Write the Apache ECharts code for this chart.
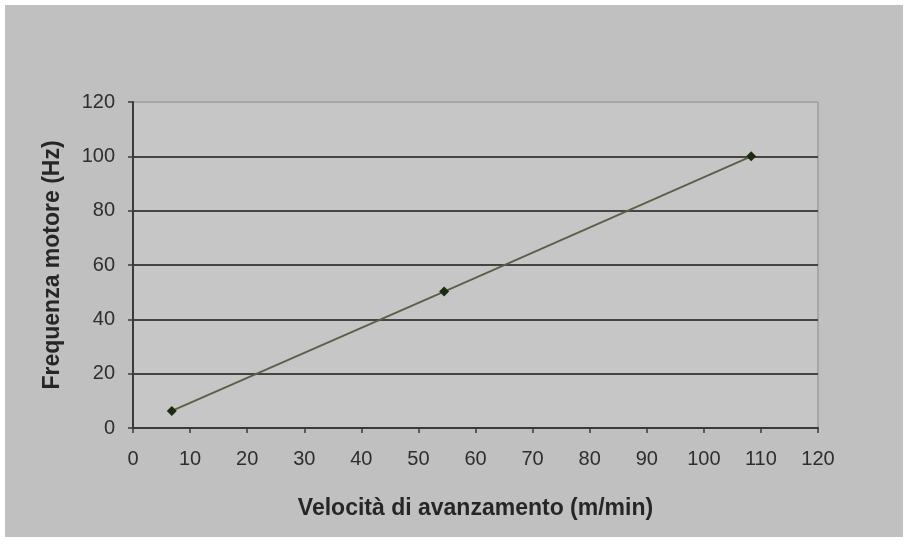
<!DOCTYPE html>
<html><head><meta charset="utf-8">
<script src="https://cdn.jsdelivr.net/npm/echarts@6/dist/echarts.min.js"></script>
<style>html,body{margin:0;padding:0;background:#fff}#wrap{position:absolute;left:5px;top:5px;width:898px;height:532px;background:#c0c0c0}#c{width:908px;height:545px;position:absolute;left:0;top:0}</style>
</head><body><div id="wrap"></div><div id="c"></div>
<script>
var velocita = [6.8, 54.5, 108.3];
var frequenza = [6.3, 50.2, 100];
var xTicks = [0,10,20,30,40,50,60,70,80,90,100,110,120];
var yTicks = [0,20,40,60,80,100,120];
var data = velocita.map(function(v,i){return [v, frequenza[i]];});
var chart = echarts.init(document.getElementById('c'));
chart.setOption({
  backgroundColor: 'transparent',
  animation: false,
  grid: {left:133, right:90, top:102, bottom:117, show:true, backgroundColor:'#c6c6c6', borderColor:'#8a8a8a', borderWidth:1},
  xAxis: {type:'value', min:xTicks[0], max:xTicks[xTicks.length-1], interval:10,
    name:'Velocità di avanzamento (m/min)', nameLocation:'middle', nameGap:69,
    nameTextStyle:{fontFamily:'Liberation Sans', fontWeight:'bold', fontSize:23, color:'#262626'},
    axisLine:{show:true, lineStyle:{color:'#3a3a3a', width:2}},
    axisTick:{show:true, inside:false, length:5, lineStyle:{color:'#3a3a3a', width:1.5}},
    axisLabel:{margin:21, fontFamily:'Liberation Sans', fontSize:20, color:'#2e2e2e'},
    splitLine:{show:false}},
  yAxis: {type:'value', min:yTicks[0], max:yTicks[yTicks.length-1], interval:20,
    name:'Frequenza motore (Hz)', nameLocation:'middle', nameGap:69,
    nameTextStyle:{fontFamily:'Liberation Sans', fontWeight:'bold', fontSize:23, color:'#262626'},
    axisLine:{show:true, lineStyle:{color:'#3a3a3a', width:2}},
    axisTick:{show:true, length:5, lineStyle:{color:'#3a3a3a', width:1.5}},
    axisLabel:{margin:18, fontFamily:'Liberation Sans', fontSize:20, color:'#2e2e2e'},
    splitLine:{show:true, showMinLine:false, showMaxLine:false, lineStyle:{color:'#444', width:2}}},
  series: [{type:'line', data:data, symbol:'diamond', symbolSize:10,
    lineStyle:{color:'#5e5e48', width:1.8}, itemStyle:{color:'#1c2a12'}}]
});
</script></body></html>
